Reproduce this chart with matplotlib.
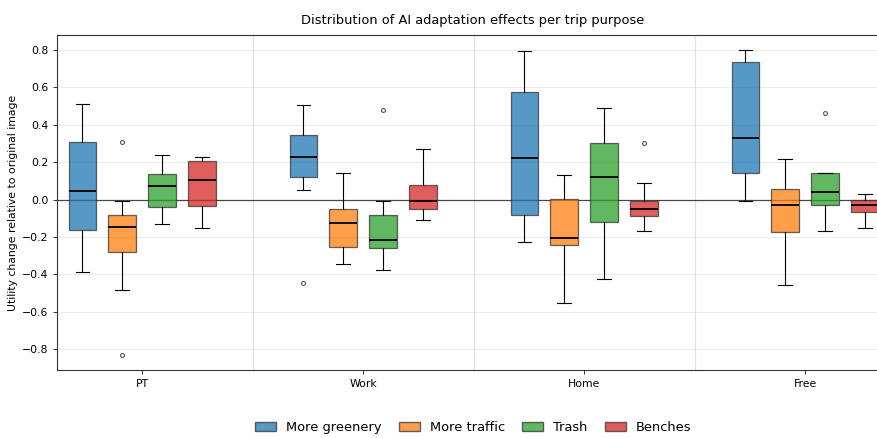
import numpy as np
import matplotlib.pyplot as plt
from matplotlib.patches import Patch

purposes = ['PT', 'Work', 'Home', 'Free']
adaptations = ['More greenery', 'More traffic', 'Trash', 'Benches']
colors = ['#1f77b4', '#ff7f0e', '#2ca02c', '#d62728']

# per adaptation: one value per trip purpose (PT, Work, Home, Free)
whislo = {
    'More greenery': [-0.385, 0.052, -0.226, -0.007],
    'More traffic': [-0.481, -0.342, -0.551, -0.455],
    'Trash': [-0.130, -0.376, -0.426, -0.168],
    'Benches': [-0.153, -0.110, -0.168, -0.153],
}
q1 = {
    'More greenery': [-0.164, 0.123, -0.082, 0.141],
    'More traffic': [-0.278, -0.253, -0.244, -0.175],
    'Trash': [-0.039, -0.260, -0.121, -0.029],
    'Benches': [-0.032, -0.052, -0.086, -0.064],
}
med = {
    'More greenery': [0.046, 0.228, 0.221, 0.328],
    'More traffic': [-0.144, -0.123, -0.205, -0.027],
    'Trash': [0.070, -0.216, 0.120, 0.039],
    'Benches': [0.103, -0.007, -0.053, -0.027],
}
q3 = {
    'More greenery': [0.308, 0.344, 0.578, 0.736],
    'More traffic': [-0.084, -0.050, 0.004, 0.059],
    'Trash': [0.139, -0.084, 0.305, 0.141],
    'Benches': [0.207, 0.078, -0.007, -0.002],
}
whishi = {
    'More greenery': [0.510, 0.506, 0.797, 0.800],
    'More traffic': [-0.007, 0.141, 0.132, 0.217],
    'Trash': [0.240, -0.007, 0.488, 0.144],
    'Benches': [0.226, 0.273, 0.089, 0.032],
}
fliers = {
    'More greenery': [[], [-0.446], [], []],
    'More traffic': [[0.310, -0.832], [], [], []],
    'Trash': [[], [0.478], [], [0.462]],
    'Benches': [[], [], [0.303], []],
}

fig = plt.figure(figsize=(8.78, 4.38), dpi=100)
# the axes run a little past the right edge of the canvas
ax = fig.add_axes([0.065, 0.155, 0.9476, 0.765])

offsets = (np.arange(len(adaptations)) - 1.5) * 0.18
for j, name in enumerate(adaptations):
    stats = []
    for i in range(len(purposes)):
        stats.append(dict(whislo=whislo[name][i], q1=q1[name][i], med=med[name][i],
                          q3=q3[name][i], whishi=whishi[name][i], fliers=fliers[name][i]))
    pos = np.arange(len(purposes)) + offsets[j]
    ax.bxp(stats, positions=pos, widths=0.125, patch_artist=True, manage_ticks=False,
           boxprops=dict(facecolor=colors[j], alpha=0.75, edgecolor='#333333', linewidth=0.9),
           medianprops=dict(color='black', linewidth=1.3),
           whiskerprops=dict(color='black', linewidth=0.8),
           capprops=dict(color='black', linewidth=0.8),
           flierprops=dict(marker='o', markersize=2.8, markerfacecolor='none',
                           markeredgecolor='#555555', markeredgewidth=0.8))

ax.axhline(0, color='black', linewidth=0.9, alpha=0.7, zorder=1)
for k in range(len(purposes) - 1):
    ax.axvline(k + 0.5, color='#cccccc', linewidth=0.9, alpha=0.6, zorder=0)

ax.set_xticks(range(len(purposes)))
ax.set_xticklabels(purposes)
ax.set_xlim(-0.385, 3.38)
ax.set_ylim(-0.912, 0.88)
ax.set_yticks(np.arange(-0.8, 0.81, 0.2))
ax.tick_params(labelsize=7.8, length=2.8, width=0.7, color='#333333')
ax.yaxis.grid(True, color='#dddddd', alpha=0.6, linewidth=0.7)
ax.set_axisbelow(True)
for s in ['left', 'bottom', 'top', 'right']:
    ax.spines[s].set_color('#333333')
    ax.spines[s].set_linewidth(0.8)

ax.set_ylabel('Utility change relative to original image', fontsize=7.8, labelpad=3)
ax.set_title('Distribution of AI adaptation effects per trip purpose', fontsize=9.4, pad=8)

handles = [Patch(facecolor=c, alpha=0.75, edgecolor='#333333', label=n)
           for c, n in zip(colors, adaptations)]
fig.legend(handles=handles, loc='center', bbox_to_anchor=(0.539, 0.023), ncol=4,
           frameon=False, fontsize=9.4, handlelength=1.6, columnspacing=1.3)

fig.savefig('out.png', dpi=100)
